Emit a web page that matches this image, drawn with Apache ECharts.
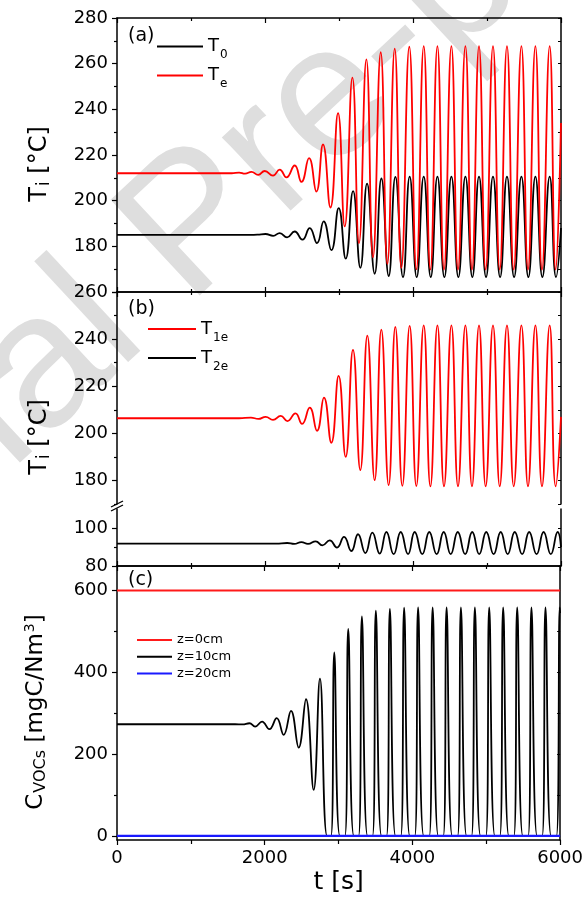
<!DOCTYPE html>
<html><head><meta charset="utf-8">
<script src="https://cdn.jsdelivr.net/npm/echarts@6/dist/echarts.min.js"></script>
<style>html,body{margin:0;padding:0;background:#fff}#c{width:586px;height:897px}</style>
</head><body><div id="c"></div>
<script>
// ---------- axis ticks ----------
const xRange = [0, 6000];
const yTicksA = [180, 200, 220, 240, 260, 280];
const yMinorA = [170, 190, 210, 230, 250, 270];
const yTicksB = [180, 200, 220, 240, 260];
const yMinorB = [170, 190, 210, 230, 250];
const yTicksBlow = [80, 100];
const yMinorBlow = [90];
const yTicksC = [0, 200, 400, 600];
const yMinorC = [100, 300, 500];

// ---------- series (time [s], value) ----------
const T0 = [[0,185.0],[1800,185.0],[1900,185.1],[2006,185.4],[2110,184.6],[2199,185.8],[2298,183.9],[2401,186.5],[2505,182.9],[2604,188.0],[2703,181.4],[2793,190.9],[2897,178.3],[2996,196.7],[3091,174.6],[3190,204.2],[3289,170.6],[3379,207.5],[3482,168.0],[3573,209.7],[3672,167.0],[3762,210.4],[3865,166.5],[3955,210.5],[4050,166.5],[4145,210.5],[4240,166.5],[4330,210.5],[4424,166.5],[4519,210.5],[4613,166.5],[4708,210.5],[4802,166.5],[4892,210.5],[4987,166.5],[5081,210.5],[5177,166.5],[5270,210.5],[5366,166.5],[5465,210.5],[5559,166.5],[5654,210.5],[5748,166.5],[5847,210.5],[5933,166.5],[6000,188]];
const Te = [[0,212.0],[1550,212.0],[1650,212.3],[1730,211.8],[1817,212.6],[1907,211.3],[1996,213.0],[2108,211.0],[2199,213.6],[2289,210.2],[2401,215.4],[2492,208.2],[2595,218.6],[2694,204.0],[2784,224.6],[2884,197.0],[2987,238.3],[3077,188.7],[3181,253.9],[3270,181.4],[3370,261.9],[3459,175.2],[3564,265.0],[3654,172.3],[3753,266.6],[3843,170.6],[3950,267.4],[4046,169.9],[4145,267.7],[4235,169.8],[4330,267.7],[4419,169.8],[4519,267.7],[4608,169.8],[4708,267.7],[4797,169.8],[4892,267.7],[4982,169.8],[5081,267.7],[5172,169.8],[5270,267.7],[5361,169.8],[5465,267.7],[5554,169.8],[5654,267.7],[5743,169.8],[5847,267.7],[5928,169.8],[6000,234]];
const T1e = [[0,206.4],[1650,206.4],[1810,206.7],[1910,206.1],[2009,207.0],[2108,205.7],[2212,207.4],[2302,205.2],[2411,208.5],[2501,204.0],[2604,210.9],[2703,201.1],[2797,215.2],[2896,196.0],[2995,224.4],[3090,190.0],[3189,235.4],[3288,184.4],[3383,241.5],[3482,180.1],[3572,244.0],[3671,178.0],[3761,245.2],[3856,177.7],[3955,245.6],[4045,177.6],[4145,245.8],[4235,177.5],[4330,245.8],[4419,177.5],[4519,245.8],[4608,177.5],[4708,245.8],[4797,177.5],[4892,245.8],[4982,177.5],[5081,245.8],[5172,177.5],[5270,245.8],[5361,177.5],[5465,245.8],[5554,177.5],[5654,245.8],[5743,177.5],[5847,245.8],[5928,177.5],[6000,207]];
const T2e = [[0,91.8],[2150,91.8],[2300,92.1],[2395,91.6],[2492,92.6],[2581,91.6],[2685,93.0],[2775,90.9],[2874,93.5],[2973,89.7],[3068,95.3],[3167,87.9],[3257,96.7],[3356,86.8],[3451,97.6],[3550,86.5],[3641,97.9],[3739,86.2],[3834,97.9],[3933,86.2],[4023,97.9],[4125,86.2],[4220,97.9],[4320,86.2],[4415,97.9],[4510,86.2],[4605,97.9],[4705,86.2],[4800,97.9],[4895,86.2],[4990,97.9],[5090,86.2],[5185,97.9],[5280,86.2],[5375,97.9],[5475,86.2],[5570,97.9],[5670,86.2],[5765,97.9],[5862,86.2],[5955,97.9],[6000,90]];
const Cz0 = [[0,600],[6000,600]];
const Cz10 = [[0,273],[1600,273],[1700,272.5],[1793,275.5],[1870,267.4],[1964,279.6],[2063,260.9],[2163,287.8],[2257,247],[2356,305.7],[2460,216],[2559,334.2],[2663,112.5],[2748,384.4],[2845,0],[2897,0],[2942,449],[3018,0],[3086,0],[3131,506],[3207,0],[3271,0],[3316,537],[3393,0],[3460,0],[3505,551],[3582,0],[3650,0],[3695,555],[3772,0],[3843,0],[3888,558],[3965,0],[4032,0],[4077,559],[4154,0],[4229,0],[4274,559],[4351,0],[4418,0],[4463,559],[4540,0],[4612,0],[4657,559],[4734,0],[4801,0],[4846,559],[4923,0],[4995,0],[5040,559],[5117,0],[5184,0],[5229,559],[5306,0],[5374,0],[5419,559],[5496,0],[5567,0],[5612,559],[5689,0],[5757,0],[5802,559],[5879,0],[5950,0],[5995,559],[6000,545]];
const Cz20 = [[0,0],[6000,0]];

const FONT = 'DejaVu Sans';
const BLACK = '#000';
const lineSty = { color: BLACK, width: 1.5 };

function xAx(grid, pos, inside, showLabel, extra) {
  return Object.assign({
    type: 'value', gridIndex: grid, position: pos, min: xRange[0], max: xRange[1], interval: 2000,
    axisLine: { show: true, onZero: false, lineStyle: lineSty },
    axisTick: { show: true, inside: inside, length: 5, lineStyle: { color: BLACK, width: 1.2 } },
    minorTick: { show: true, splitNumber: 2, length: inside ? 3 : 4, lineStyle: { color: BLACK, width: 1.2 } },
    axisLabel: { show: showLabel, color: BLACK, fontSize: 18, fontFamily: FONT, margin: 9, formatter: v => String(v) },
    splitLine: { show: false }, minorSplitLine: { show: false }
  }, extra || {});
}
function yMajor(grid, min, max, ticks, labels) {
  return {
    type: 'value', gridIndex: grid, position: 'left', min: min, max: max,
    axisLine: { show: true, onZero: false, lineStyle: lineSty },
    axisTick: { show: true, inside: false, length: 5, customValues: ticks, lineStyle: { color: BLACK, width: 1.2 } },
    axisLabel: { show: true, customValues: labels || ticks, color: BLACK, fontSize: 18, fontFamily: FONT, margin: 9, formatter: v => String(v) },
    splitLine: { show: false }
  };
}
function yMinor(grid, min, max, ticks) {
  return {
    type: 'value', gridIndex: grid, position: 'left', min: min, max: max,
    axisLine: { show: false },
    axisTick: { show: true, inside: false, length: 3, customValues: ticks, lineStyle: { color: BLACK, width: 1.2 } },
    axisLabel: { show: false }, splitLine: { show: false }
  };
}
function yRight(grid, min, max, ticks) {
  return {
    type: 'value', gridIndex: grid, position: 'right', min: min, max: max,
    axisLine: { show: true, onZero: false, lineStyle: lineSty },
    axisTick: { show: true, inside: true, length: 3, customValues: ticks, lineStyle: { color: BLACK, width: 1 } },
    axisLabel: { show: false }, splitLine: { show: false }
  };
}

function ser(name, data, xi, yi, color, width, smooth) {
  return {
    name: name, type: 'line', data: data, xAxisIndex: xi, yAxisIndex: yi,
    symbol: 'none', showSymbol: false, smooth: smooth, animation: false,
    lineStyle: { color: color, width: width }, itemStyle: { color: color }, z: 3
  };
}

const subRich = {
  m: { fontSize: 18, fontFamily: FONT, color: BLACK, lineHeight: 20 },
  s: { fontSize: 12, fontFamily: FONT, color: BLACK, lineHeight: 12, padding: [17, 0, 0, 1] }
};

const chart = echarts.init(document.getElementById('c'), null, { renderer: 'canvas' });
chart.setOption({
  animation: false,
  backgroundColor: '#fff',
  grid: [
    { left: 117, top: 18, width: 444, height: 274 },
    { left: 117, top: 292, width: 444, height: 212 },
    { left: 117, top: 509, width: 444, height: 57 },
    { left: 117, top: 566, width: 444, height: 274 }
  ],
  xAxis: [
    xAx(0, 'bottom', true, false),
    xAx(0, 'top', true, false),
    xAx(1, 'top', true, false),
    xAx(2, 'bottom', true, false),
    xAx(3, 'bottom', false, true, {
      name: 't [s]', nameLocation: 'middle', nameGap: 30,
      nameTextStyle: { color: BLACK, fontSize: 25, fontFamily: FONT }
    }),
    xAx(3, 'top', true, false)
  ],
  yAxis: [
    yMajor(0, 160, 280, [160].concat(yTicksA), yTicksA),
    yMinor(0, 160, 280, yMinorA),
    yRight(0, 160, 280, yTicksA.concat(yMinorA)),
    yMajor(1, 170, 260, yTicksB),
    yMinor(1, 170, 260, yMinorB),
    yRight(1, 170, 260, yTicksB.concat(yMinorB)),
    yMajor(2, 80, 110, yTicksBlow),
    yMinor(2, 80, 110, yMinorBlow),
    yRight(2, 80, 110, yTicksBlow.concat(yMinorBlow)),
    yMajor(3, -10, 660, yTicksC),
    yMinor(3, -10, 660, yMinorC),
    yRight(3, -10, 660, yTicksC.concat(yMinorC))
  ],
  legend: [
    { left: 157, top: 32, padding: 0, orient: 'vertical', icon: 'rect', itemWidth: 46, itemHeight: 2, itemGap: 0,
      selectedMode: false, data: ['T0', 'Te'],
      formatter: n => '{m|T}{s|' + n.slice(1) + '}', textStyle: { rich: subRich } },
    { left: 148, top: 314.5, padding: 0, orient: 'vertical', icon: 'rect', itemWidth: 48, itemHeight: 2, itemGap: 0,
      selectedMode: false, data: ['T1e', 'T2e'],
      formatter: n => '{m|T}{s|' + n.slice(1) + '}', textStyle: { rich: subRich } },
    { left: 137, top: 633, padding: 0, orient: 'vertical', icon: 'rect', itemWidth: 35, itemHeight: 2, itemGap: 2.7,
      selectedMode: false, data: ['z=0cm', 'z=10cm', 'z=20cm'],
      textStyle: { color: BLACK, fontSize: 13, fontFamily: FONT, lineHeight: 14 } }
  ],
  series: [
    ser('T0', T0, 0, 0, '#000000', 1.8, 0.5),
    ser('Te', Te, 0, 0, '#ff0000', 1.8, 0.5),
    ser('T1e', T1e, 2, 3, '#ff0000', 1.8, 0.5),
    ser('T2e', T2e, 3, 6, '#000000', 1.8, 0.5),
    ser('z=0cm', Cz0, 4, 9, '#ff1a1a', 2, 0),
    ser('z=10cm', Cz10, 4, 9, '#000000', 1.8, 0.45),
    ser('z=20cm', Cz20, 4, 9, '#1a1aff', 2.2, 0)
  ],
  graphic: [
    { type: 'text', x: 195, y: 228, rotation: 0.75, z: -100, silent: true,
      style: { text: 'Journal Pre-proof', font: '190px "Liberation Sans"', fill: '#dedede', align: 'center', verticalAlign: 'middle' } },
    { type: 'text', x: 128, y: 36, z: 100, style: { text: '(a)', font: '19px "DejaVu Sans"', fill: BLACK, verticalAlign: 'middle' } },
    { type: 'text', x: 128, y: 309, z: 100, style: { text: '(b)', font: '19px "DejaVu Sans"', fill: BLACK, verticalAlign: 'middle' } },
    { type: 'text', x: 128, y: 580, z: 100, style: { text: '(c)', font: '19px "DejaVu Sans"', fill: BLACK, verticalAlign: 'middle' } },
    { type: 'text', x: 40, y: 164, rotation: Math.PI / 2, z: 100,
      style: { text: '{m|T}{s|i}{m| [°C]}', align: 'center', verticalAlign: 'middle',
        rich: { m: { fontSize: 24, fontFamily: FONT, fill: BLACK }, s: { fontSize: 17, fontFamily: FONT, fill: BLACK, padding: [10, 0, 0, 1] } } } },
    { type: 'text', x: 40, y: 437, rotation: Math.PI / 2, z: 100,
      style: { text: '{m|T}{s|i}{m| [°C]}', align: 'center', verticalAlign: 'middle',
        rich: { m: { fontSize: 24, fontFamily: FONT, fill: BLACK }, s: { fontSize: 17, fontFamily: FONT, fill: BLACK, padding: [10, 0, 0, 1] } } } },
    { type: 'text', x: 36, y: 712, rotation: Math.PI / 2, z: 100,
      style: { text: '{m|C}{s|VOCs}{m| [mgC/Nm}{p|3}{m|]}', align: 'center', verticalAlign: 'middle',
        rich: { m: { fontSize: 23, fontFamily: FONT, fill: BLACK },
                s: { fontSize: 16, fontFamily: FONT, fill: BLACK, padding: [10, 0, 0, 1] },
                p: { fontSize: 14, fontFamily: FONT, fill: BLACK, padding: [0, 0, 12, 1] } } } },
    { type: 'line', z: 100, shape: { x1: 111, y1: 507, x2: 123, y2: 501 }, style: { stroke: BLACK, lineWidth: 1.3 } },
    { type: 'line', z: 100, shape: { x1: 111, y1: 511, x2: 123, y2: 505 }, style: { stroke: BLACK, lineWidth: 1.3 } }
  ]
});
</script>
</body></html>
